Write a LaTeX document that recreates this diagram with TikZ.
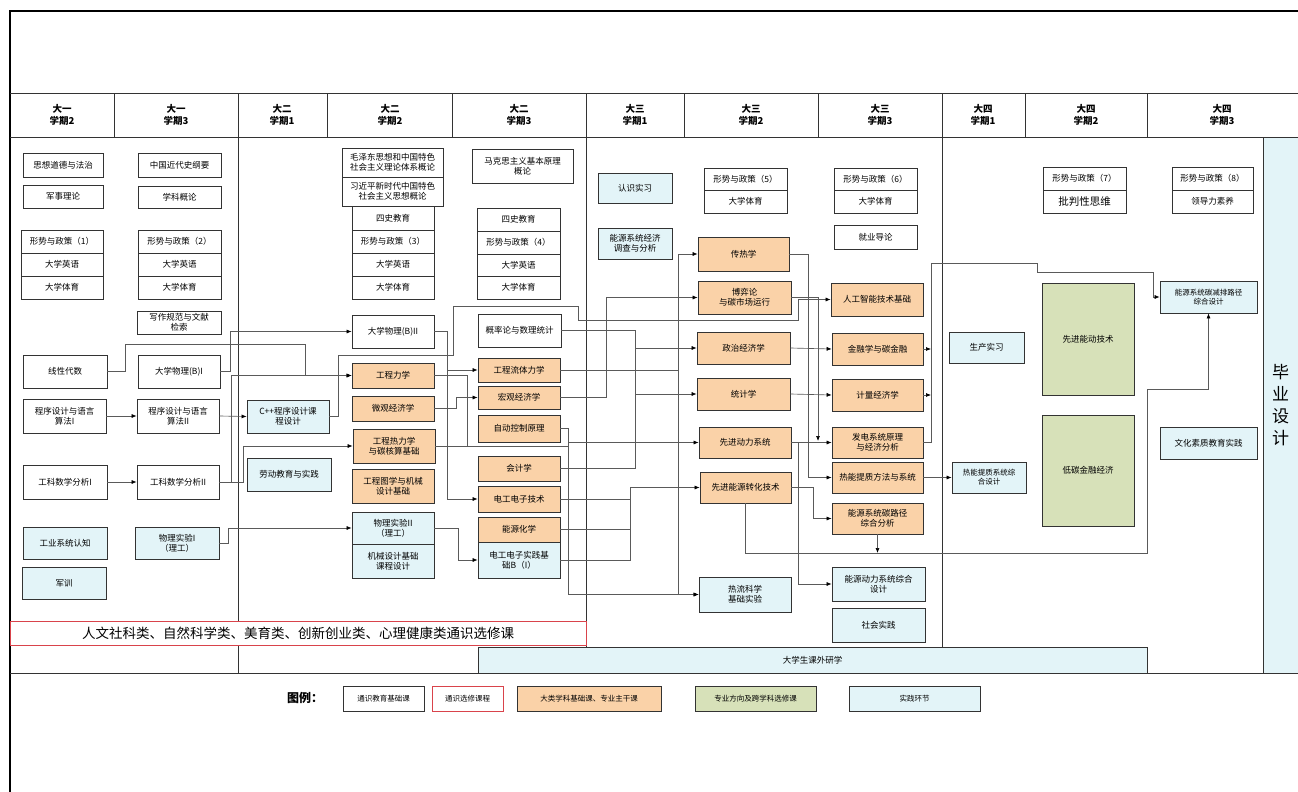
\documentclass[tikz,border=0pt]{standalone}
\usepackage{fontspec}
\setmainfont{Noto Sans CJK SC}
\usetikzlibrary{arrows.meta}
\definecolor{orf}{HTML}{FAD2A8}
\definecolor{grf}{HTML}{D7E1B9}
\definecolor{blf}{HTML}{E3F4F8}
\definecolor{bd}{HTML}{333333}
\definecolor{ln}{HTML}{5A5A5A}
\definecolor{rd}{HTML}{D9434B}
\newcommand\cbox[7]{%
  \pgfmathsetmacro\cbxc{(#3+#5)/2}%
  \pgfmathsetmacro\cbyc{(#4+#6)/2}%
  \pgfmathsetmacro\cbw{#5-#3}%
  \pgfmathsetmacro\cbh{#6-#4}%
  \node[#1, minimum width=\cbw pt, minimum height=\cbh pt] (#2) at (\cbxc,\cbyc) {#7};%
}
\begin{document}
\begin{tikzpicture}[x=1pt,y=-1pt,
  box/.style={draw=bd,line width=0.75pt,fill=white,align=center,inner sep=1pt,font=\fontsize{8.5}{10}\selectfont,text=black},
  obox/.style={box,fill=orf},
  gbox/.style={box,fill=grf},
  bbox/.style={box,fill=blf},
  hdr/.style={align=center,inner sep=0pt,font=\fontsize{9.5}{11.5}\selectfont\bfseries},
  tline/.style={draw=bd,line width=0.9pt},
  conn/.style={draw=ln,line width=0.65pt},
  arr/.style={conn,-{Latex[length=5pt,width=4pt,color=black]}},
]
\useasboundingbox (0,0) rectangle (1298,792);
\fill[white] (0,0) rectangle (1298,792);
% frame
\draw[line width=2.4pt,black] (10,792) -- (10,11) -- (1298,11);
% table
\draw[tline] (10,93) -- (1298,93);
\draw[tline] (10,137) -- (1298,137);
\draw[tline] (10,673) -- (1298,673);
\foreach \x in {114,238,327,452,586,684,818,942,1025,1147} \draw[tline] (\x,93) -- (\x,137);
\draw[tline] (238,137) -- (238,673);
\draw[tline] (586,137) -- (586,647);
\draw[tline] (942,137) -- (942,647);
% headers
\node[hdr] (h1) at (62,115) {大一\\学期2};
\node[hdr] (h2) at (176,115) {大一\\学期3};
\node[hdr] (h3) at (282,115) {大二\\学期1};
\node[hdr] (h4) at (390,115) {大二\\学期2};
\node[hdr] (h5) at (519,115) {大二\\学期3};
\node[hdr] (h6) at (635,115) {大三\\学期1};
\node[hdr] (h7) at (751,115) {大三\\学期2};
\node[hdr] (h8) at (880,115) {大三\\学期3};
\node[hdr] (h9) at (983,115) {大四\\学期1};
\node[hdr] (h10) at (1086,115) {大四\\学期2};
\node[hdr] (h11) at (1222,115) {大四\\学期3};
% bottom bands
\cbox{bbox}{kwyx}{478}{647}{1147}{673}{大学生课外研学}
\cbox{bbox,font=\fontsize{17}{22}\selectfont}{bysj}{1263}{137}{1298}{673}{毕\\业\\设\\计}
\cbox{box,draw=rd,font=\fontsize{13.5}{15}\selectfont}{tsxx}{10}{621}{586}{645}{人文社科类、自然科学类、美育类、创新创业类、心理健康类通识选修课}
% column 1
\cbox{box}{c1a}{23}{153}{103}{177}{思想道德与法治}
\cbox{box}{c1b}{23}{185}{103}{208}{军事理论}
\cbox{box}{c1c}{21}{230}{103}{253}{形势与政策（1）}
\cbox{box}{c1d}{21}{253}{103}{276}{大学英语}
\cbox{box}{c1e}{21}{276}{103}{299}{大学体育}
\cbox{box}{xxds}{23}{355}{107}{388}{线性代数}
\cbox{box}{cx1}{23}{399}{106}{433}{程序设计与语言\\算法I}
\cbox{box}{gk1}{23}{465}{107}{499}{工科数学分析I}
\cbox{bbox}{gyrz}{23}{527}{107}{559}{工业系统认知}
\cbox{bbox}{jx}{22}{567}{106}{599}{军训}
% column 2
\cbox{box}{c2a}{138}{153}{221}{177}{中国近代史纲要}
\cbox{box}{c2b}{138}{186}{221}{208}{学科概论}
\cbox{box}{c2c}{138}{230}{221}{253}{形势与政策（2）}
\cbox{box}{c2d}{138}{253}{221}{276}{大学英语}
\cbox{box}{c2e}{138}{276}{221}{299}{大学体育}
\cbox{box}{xzgf}{137}{311}{221}{334}{写作规范与文献\\检索}
\cbox{box}{wl1}{138}{355}{220}{388}{大学物理(B)I}
\cbox{box}{cx2}{137}{399}{219}{433}{程序设计与语言\\算法II}
\cbox{box}{gk2}{137}{465}{219}{499}{工科数学分析II}
\cbox{bbox}{sy1}{135}{527}{219}{559}{物理实验I\\（理工）}
% column 3
\cbox{bbox}{cpp}{247}{400}{329}{433}{C++程序设计课\\程设计}
\cbox{bbox}{ldjy}{247}{458}{331}{491}{劳动教育与实践}
% column 4
\cbox{box}{mzd}{342}{148}{443}{177}{毛泽东思想和中国特色\\社会主义理论体系概论}
\cbox{box}{xjp}{342}{177}{443}{206}{习近平新时代中国特色\\社会主义思想概论}
\cbox{box}{c4a}{352}{206}{434}{230}{四史教育}
\cbox{box}{c4b}{352}{230}{434}{253}{形势与政策（3）}
\cbox{box}{c4c}{352}{253}{434}{276}{大学英语}
\cbox{box}{c4d}{352}{276}{434}{299}{大学体育}
\cbox{box}{wl2}{352}{315}{434}{348}{大学物理(B)II}
\cbox{obox}{gclx}{352}{363}{434}{388}{工程力学}
\cbox{obox}{wgjj}{352}{396}{434}{421}{微观经济学}
\cbox{obox}{grlx}{353}{429}{435}{463}{工程热力学\\与碳核算基础}
\cbox{obox}{gctx}{352}{469}{434}{503}{工程图学与机械\\设计基础}
\cbox{bbox}{sy2}{352}{512}{434}{544}{物理实验II\\（理工）}
\cbox{bbox}{jxsj}{352}{544}{434}{578}{机械设计基础\\课程设计}
% column 5
\cbox{box}{mks}{472}{149}{573}{183}{马克思主义基本原理\\概论}
\cbox{box}{c5a}{477}{208}{560}{231}{四史教育}
\cbox{box}{c5b}{477}{231}{560}{254}{形势与政策（4）}
\cbox{box}{c5c}{477}{254}{560}{276}{大学英语}
\cbox{box}{c5d}{477}{276}{560}{299}{大学体育}
\cbox{box}{gll}{478}{314}{561}{347}{概率论与数理统计}
\cbox{obox}{gcltl}{478}{358}{560}{382}{工程流体力学}
\cbox{obox}{hgjj}{478}{386}{560}{409}{宏观经济学}
\cbox{obox}{zdkz}{478}{415}{560}{442}{自动控制原理}
\cbox{obox}{kjx}{478}{456}{560}{481}{会计学}
\cbox{obox}{dgdz}{478}{486}{560}{512}{电工电子技术}
\cbox{obox}{nyhx}{478}{517}{560}{542}{能源化学}
\cbox{bbox}{dgsj}{478}{542}{560}{578}{电工电子实践基\\础B（I）}
% column 6
\cbox{bbox}{rssx}{598}{173}{672}{203}{认识实习}
\cbox{bbox}{nyjj}{598}{228}{672}{259}{能源系统经济\\调查与分析}
% column 7
\cbox{box}{c7a}{704}{168}{787}{190}{形势与政策（5）}
\cbox{box}{c7b}{704}{190}{787}{213}{大学体育}
\cbox{obox}{crx}{698}{237}{789}{271}{传热学}
\cbox{obox}{byl}{698}{281}{791}{314}{博弈论\\与碳市场运行}
\cbox{obox}{zzjj}{697}{332}{790}{364}{政治经济学}
\cbox{obox}{tjx}{697}{378}{790}{410}{统计学}
\cbox{obox}{xjdl}{699}{427}{791}{458}{先进动力系统}
\cbox{obox}{xjny}{700}{472}{791}{503}{先进能源转化技术}
\cbox{bbox}{rlsy}{699}{577}{791}{612}{热流科学\\基础实验}
% column 8
\cbox{box}{c8a}{834}{168}{917}{190}{形势与政策（6）}
\cbox{box}{c8b}{834}{190}{917}{213}{大学体育}
\cbox{box}{jydl}{834}{225}{917}{249}{就业导论}
\cbox{obox}{rgzn}{831}{283}{923}{316}{人工智能技术基础}
\cbox{obox}{jrx}{832}{333}{923}{365}{金融学与碳金融}
\cbox{obox}{jljj}{832}{379}{923}{411}{计量经济学}
\cbox{obox}{fdxt}{832}{427}{923}{458}{发电系统原理\\与经济分析}
\cbox{obox}{rntz}{832}{462}{923}{493}{热能提质方法与系统}
\cbox{obox}{nytl}{832}{503}{923}{534}{能源系统碳路径\\综合分析}
\cbox{bbox}{nydl}{832}{567}{925}{601}{能源动力系统综合\\设计}
\cbox{bbox}{shsj}{832}{608}{925}{642}{社会实践}
% column 9-11
\cbox{bbox}{scsx}{949}{332}{1024}{363}{生产实习}
\cbox{bbox,font=\fontsize{7.5}{9}\selectfont}{rnxt}{952}{462}{1026}{493}{热能提质系统综\\合设计}
\cbox{box}{c10a}{1043}{167}{1126}{190}{形势与政策（7）}
\cbox{box,font=\fontsize{10.5}{11}\selectfont}{c10b}{1043}{190}{1126}{213}{批判性思维}
\cbox{gbox}{xjnd}{1042}{283}{1134}{395}{先进能动技术}
\cbox{gbox}{dtjr}{1042}{415}{1134}{526}{低碳金融经济}
\cbox{box}{c11a}{1172}{167}{1253}{190}{形势与政策（8）}
\cbox{box}{c11b}{1172}{190}{1253}{213}{领导力素养}
\cbox{bbox,font=\fontsize{7.5}{9}\selectfont}{nyjp}{1160}{281}{1257}{313}{能源系统碳减排路径\\综合设计}
\cbox{bbox}{whsz}{1160}{427}{1257}{459}{文化素质教育实践}
% legend
\node[font=\fontsize{12}{14}\selectfont\bfseries] (lgt) at (305,698) {图例：};
\cbox{box,font=\fontsize{7.5}{9}\selectfont}{lg1}{343}{686}{424}{711}{通识教育基础课}
\cbox{box,draw=rd,font=\fontsize{7.5}{9}\selectfont}{lg2}{432}{686}{503}{711}{通识选修课程}
\cbox{obox,font=\fontsize{7.5}{9}\selectfont}{lg3}{517}{686}{661}{711}{大类学科基础课、专业主干课}
\cbox{gbox,font=\fontsize{7.5}{9}\selectfont}{lg4}{695}{686}{816}{711}{专业方向及跨学科选修课}
\cbox{bbox,font=\fontsize{7.5}{9}\selectfont}{lg5}{849}{686}{980}{711}{实践环节}
% connectors
\draw[arr] (cx1.east) -- (cx2.west);
\draw[arr] (gk1.east) -- (gk2.west);
\draw[arr] (xxds.east) -| (125,344) -| (305,375.5) -- (gclx.west);
\draw[arr] (wl1.east) -| (230,331.5) -- (wl2.west);
\draw[arr] (cx2.east) -- (cpp.west);
\draw[arr] (gk2.east) -| (231,375.5) -- (gclx.west);
\draw[arr] (gk2.east) -| (243,446) -- (grlx.west);
\draw[arr] (sy1.east) -| (228,528) -- (sy2.west);
\draw[arr] (cpp.east) -| (338,355) -| (453,306) -| (578,320) -| (798,299.5) -- (rgzn.west);
\coordinate (j1) at (447,370);
\draw[arr] (wl2.east) -| (j1) -- (gcltl.west);
\draw[arr] (j1) |- (dgdz.west);
\draw[arr] (wgjj.east) -| (456,397.5) -- (hgjj.west);
\draw[arr] (sy2.east) -| (458,560) -- (dgsj.west);
\draw[conn] (gclx.east) -| (467,446);
\draw[arr] (grlx.east) -- (568,446) |- (xjdl.west);
\coordinate (j2) at (678,370);
\draw[arr] (gcltl.east) -- (j2) |- (crx.west);
\draw[arr] (j2) |- (rlsy.west);
\draw[arr] (hgjj.east) -| (606,297.5) -- (byl.west);
\draw[arr] (zdkz.east) -| (568,594.5) -- (rlsy.west);
\coordinate (j3) at (635,348);
\draw[arr] (gll.east) -| (j3) -- (zzjj.west);
\draw[arr] (j3) |- (tjx.west);
\draw[conn] (kjx.east) -| (635,394);
\draw[arr] (dgsj.east) -| (630,487.5) -- (xjny.west);
\draw[conn] (dgdz.east) -- (630,499);
\draw[conn] (nyhx.east) -- (630,529.5);
\draw[arr] (crx.east) -| (808,477.5) -- (rntz.west);
\draw[arr] (byl.east) -| (818,441);
\draw[arr] (zzjj.east) -- (jrx.west);
\draw[arr] (tjx.east) -- (jljj.west);
\draw[arr] (xjdl.east) -- (fdxt.west);
\draw[arr] (xjdl.east) -| (798,584) -- (nydl.west);
\draw[arr] (xjny.east) -| (813,518.5) -- (nytl.west);
\draw[arr] (rntz.east) -- (rnxt.west);
\draw[arr] (nytl.south) -- (877.5,553);
\draw[arr] (xjny.south) |- (1147,553) |- (1208.5,389) -- (nyjp.south);
\draw[arr] (fdxt.east) -| (931,263) -| (1037,272) -| (1153,297) -- (nyjp.west);
\draw[arr] (jrx.east) -- (931,349);
\draw[arr] (jljj.east) -- (931,395);
\end{tikzpicture}
\end{document}
